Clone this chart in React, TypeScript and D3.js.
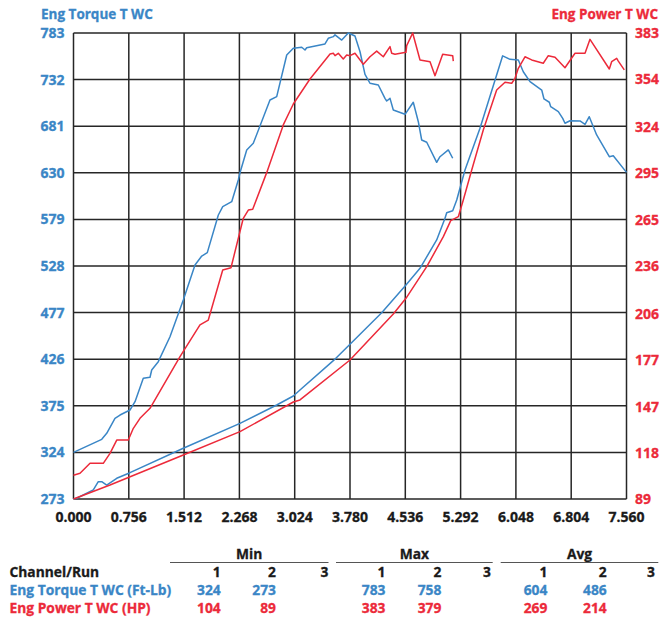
import React from "react";
import * as d3 from "d3";

// ---------- DATA ----------
const xTicks = [0, 0.756, 1.512, 2.268, 3.024, 3.78, 4.536, 5.292, 6.048, 6.804, 7.56];
const xTickLabels = ["0.000", "0.756", "1.512", "2.268", "3.024", "3.780", "4.536", "5.292", "6.048", "6.804", "7.560"];
const torqueTicks = [273, 324, 375, 426, 477, 528, 579, 630, 681, 732, 783];
const powerTicks = [89, 118, 147, 177, 206, 236, 265, 295, 324, 354, 383];

// Run 1 torque (Ft-Lb)
const torqueRun1: [number, number][] = [
  [0, 324], [0.386, 338.3], [0.454, 344.9], [0.567, 361.3], [0.636, 364.9], [0.772, 370.4],
  [0.841, 379.5], [0.954, 405.1], [1.046, 406.2], [1.069, 414.2], [1.159, 423.3], [1.319, 450.6],
  [1.501, 490.8], [1.661, 529.1], [1.753, 538.9], [1.829, 542.6], [1.98, 583.8], [2.04, 592.9],
  [2.163, 598.4], [2.253, 622.1], [2.276, 630.1], [2.368, 655], [2.458, 662.3], [2.686, 709.7],
  [2.778, 713.3], [2.915, 758.9], [3.005, 766.3], [3.12, 767.4], [3.165, 764.4], [3.188, 766.9],
  [3.438, 771], [3.483, 777.2], [3.552, 779], [3.575, 781], [3.667, 775.3], [3.757, 783],
  [3.848, 779.7], [3.917, 762.5], [3.985, 737.8], [4.053, 728], [4.167, 726.1], [4.258, 711.5],
  [4.282, 708.6], [4.327, 711.5], [4.372, 698.7], [4.532, 694], [4.645, 707.2], [4.714, 685.9],
  [4.76, 665.9], [4.829, 663.4], [4.965, 641.5], [5.01, 647.6], [5.124, 655], [5.184, 645.9],
];

// Run 1 power (HP)
const powerRun1: [number, number][] = [
  [0, 104], [0.089, 105.2], [0.226, 111.5], [0.407, 111.5], [0.499, 117.8], [0.591, 126.2],
  [0.749, 126.2], [0.818, 133.6], [0.909, 139.9], [1.046, 146.2], [1.456, 178.8], [1.729, 198.8],
  [1.843, 201.9], [2.04, 233.5], [2.153, 234.9], [2.321, 266.1], [2.39, 271.3], [2.45, 271.8],
  [2.641, 294.9], [2.868, 325], [3.005, 338.2], [3.233, 354], [3.507, 369.8], [3.552, 370.2],
  [3.575, 368.7], [3.62, 370.2], [3.688, 366.6], [3.735, 369.1], [3.78, 368.7], [3.848, 370.2],
  [3.962, 363.3], [4.053, 368], [4.145, 371.6], [4.235, 368], [4.327, 374.4], [4.35, 370.2],
  [4.395, 369.6], [4.545, 370.8], [4.555, 375], [4.637, 383], [4.737, 366], [4.874, 364.9],
  [4.942, 356.1], [5.047, 369.6], [5.184, 368.7], [5.192, 365.3],
];

// Run 2 torque (Ft-Lb)
const torqueRun2: [number, number][] = [
  [0, 273], [0.044, 273.8], [0.271, 282.9], [0.339, 291.9], [0.386, 291.9], [0.454, 288.3],
  [0.591, 295.7], [0.772, 301.8], [1.501, 328.5], [2.276, 355.8], [2.778, 375.9], [3.005, 385.7],
  [3.096, 392.3], [3.552, 424.4], [3.78, 442.3], [4.213, 476.9], [4.545, 507.2], [4.737, 525.5],
  [4.965, 556.5], [5.079, 580.2], [5.102, 586.3], [5.184, 588.5], [5.239, 600.2], [5.352, 633.1],
  [5.557, 678.7], [5.867, 758], [5.967, 754.2], [6.081, 753.5], [6.149, 740.6], [6.241, 729.7],
  [6.401, 720.6], [6.432, 710.8], [6.505, 707.2], [6.524, 702.3], [6.628, 696.9], [6.688, 689.6],
  [6.719, 684.2], [6.788, 687], [6.924, 686.7], [6.993, 683.1], [7.051, 691.4], [7.152, 671.4],
  [7.325, 647.6], [7.379, 648.7], [7.56, 630.5],
];

// Run 2 power (HP)
const powerRun2: [number, number][] = [
  [0, 89], [0.499, 97.8], [1.501, 116.8], [2.276, 131.5], [3.005, 150.2], [3.096, 151.5],
  [3.78, 176.7], [4.372, 205.7], [4.545, 215.6], [4.829, 235.6], [5.056, 254.5], [5.157, 264.6],
  [5.261, 267.1], [5.329, 277.6], [5.444, 296.6], [5.602, 321.8], [5.785, 347], [5.899, 351.9],
  [5.991, 351.3], [6.036, 354.4], [6.081, 360.7], [6.172, 368], [6.264, 366], [6.422, 363.9],
  [6.491, 368.7], [6.583, 367.7], [6.719, 361.1], [6.856, 370.2], [6.993, 370.2], [7.061, 379],
  [7.325, 360.3], [7.357, 364.9], [7.426, 367], [7.448, 365.3], [7.53, 359.7],
];

// Summary table
const tableGroups = ["Min", "Max", "Avg"];
const tableRuns = ["1", "2", "3"];
const tableChannels = ["Eng Torque T WC (Ft-Lb)", "Eng Power T WC (HP)"];
const torqueStats = [["324", "273", ""], ["783", "758", ""], ["604", "486", ""]];
const powerStats = [["104", "89", ""], ["383", "379", ""], ["269", "214", ""]];

// ---------- STYLE / LAYOUT ----------
const W = 661;
const H = 620;
const L = 73.5, R = 626.5, T = 33, B = 499;
const BLUE = "#3a86c6";
const RED = "#ec2a3a";
const DARK = "#1a1a1a";
const GRID = "#262626";
const FONT = "'Open Sans', Lato, sans-serif";
const TXT = 13.8;

const groupLines: [number, number][] = [[170, 328.5], [336, 492.7], [500.7, 658.3]];
const colRights = [[220.7, 276, 328.3], [385.5, 441.3, 491], [547.3, 606.7, 655]];

export default function App() {
  const x = d3.scaleLinear().domain([0, 7.56]).range([L, R]);
  const yT = d3.scaleLinear().domain([273, 783]).range([B, T]);
  const yP = d3.scaleLinear().domain([89, 383]).range([B, T]);

  const lineT = d3.line<[number, number]>().x((d) => x(d[0])).y((d) => yT(d[1]));
  const lineP = d3.line<[number, number]>().x((d) => x(d[0])).y((d) => yP(d[1]));

  const statRows = [torqueStats, powerStats];
  const rowColors = [BLUE, RED];
  const rowBaselines = [594.5, 612.5];

  const bold = (c: string) => ({ fill: c, stroke: c, strokeWidth: 0.3 });

  return (
    <svg
      width={W}
      height={H}
      viewBox={`0 0 ${W} ${H}`}
      style={{ position: "absolute", left: 0, top: 0, background: "#fff" }}
      fontFamily={FONT}
      fontWeight={700}
    >
      <rect x={0} y={0} width={W} height={H} fill="#fff" />

      {/* Titles */}
      <text x={41} y={19} {...bold(BLUE)} fontSize={13.5}>Eng Torque T WC</text>
      <text x={658} y={19} {...bold(RED)} fontSize={13.5} textAnchor="end">Eng Power T WC</text>

      {/* Grid */}
      <g stroke={GRID} strokeWidth={1.5} fill="none">
        {xTicks.map((t, i) => (
          <line key={"gx" + i} x1={x(t)} x2={x(t)} y1={T} y2={B} />
        ))}
        {torqueTicks.map((t, i) => (
          <line key={"gy" + i} x1={L} x2={R} y1={yT(t)} y2={yT(t)} />
        ))}
      </g>

      {/* Left axis labels */}
      {torqueTicks.map((t, i) => (
        <text key={"lt" + i} x={64.5} y={yT(t)} dy="0.36em" {...bold(BLUE)} fontSize={14} textAnchor="end">
          {t}
        </text>
      ))}
      {/* Right axis labels */}
      {powerTicks.map((t, i) => (
        <text key={"rt" + i} x={635} y={yP(t)} dy="0.36em" {...bold(RED)} fontSize={14} textAnchor="start">
          {t}
        </text>
      ))}
      {/* Bottom labels */}
      {xTicks.map((t, i) => (
        <text key={"bt" + i} x={x(t)} y={521.5} {...bold(DARK)} fontSize={14} textAnchor="middle">
          {xTickLabels[i]}
        </text>
      ))}

      {/* Curves */}
      <g fill="none" strokeWidth={1.5} strokeLinejoin="round">
        <path d={lineT(torqueRun2) || ""} stroke={BLUE} />
        <path d={lineP(powerRun2) || ""} stroke={RED} />
        <path d={lineT(torqueRun1) || ""} stroke={BLUE} />
        <path d={lineP(powerRun1) || ""} stroke={RED} />
      </g>

      {/* Table */}
      {tableGroups.map((g, gi) => (
        <g key={"tg" + gi}>
          <text
            x={(groupLines[gi][0] + groupLines[gi][1]) / 2}
            y={558.5}
            fontSize={TXT}
            {...bold(DARK)}
            textAnchor="middle"
          >
            {g}
          </text>
          <line
            x1={groupLines[gi][0]}
            x2={groupLines[gi][1]}
            y1={562.5}
            y2={562.5}
            stroke="#555"
            strokeWidth={1.2}
          />
          {tableRuns.map((r, ri) => (
            <text key={"tr" + ri} x={colRights[gi][ri]} y={577} fontSize={TXT} {...bold(DARK)} textAnchor="end">
              {r}
            </text>
          ))}
          {statRows.map((rows, si) =>
            rows[gi].map((v, ri) =>
              v ? (
                <text
                  key={"tv" + si + ri}
                  x={colRights[gi][ri]}
                  y={rowBaselines[si]}
                  fontSize={TXT}
                  {...bold(rowColors[si])}
                  textAnchor="end"
                >
                  {v}
                </text>
              ) : null
            )
          )}
        </g>
      ))}
      <text x={9.5} y={577} fontSize={TXT} {...bold(DARK)}>Channel/Run</text>
      {tableChannels.map((c, i) => (
        <text key={"tc" + i} x={9.5} y={rowBaselines[i]} fontSize={TXT} {...bold(rowColors[i])}>
          {c}
        </text>
      ))}
    </svg>
  );
}
